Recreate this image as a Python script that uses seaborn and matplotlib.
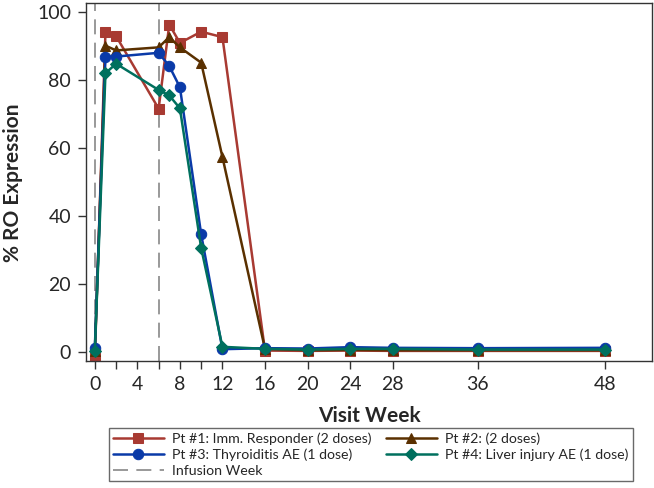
import pandas as pd
import numpy as np
import seaborn as sns
import matplotlib.pyplot as plt

weeks = [0, 1, 2, 6, 7, 8, 10, 12, 16, 20, 24, 28, 36, 48]
pt1 = [-1.5, 94.1, 92.8, 71.5, 96.2, 90.8, 94.1, 92.5, 0.5, 0.4, 0.5, 0.4, 0.4, 0.4]
pt2 = [0.3, 90.0, 88.6, 89.5, 92.5, 89.5, 85.0, 57.3, 1.0, 0.6, 0.7, 0.6, 0.6, 0.6]
pt3 = [1.3, 86.8, 86.8, 87.9, 84.0, 77.8, 34.6, 0.9, 1.2, 1.1, 1.5, 1.3, 1.2, 1.3]
pt4 = [0.5, 81.9, 84.7, 77.0, 75.4, 71.6, 30.6, 1.6, 1.0, 0.8, 1.0, 1.0, 0.8, 0.8]
infusion_weeks = [0, 6]

labels = ['Pt #1: Imm. Responder (2 doses)', 'Pt #2: (2 doses)',
          'Pt #3: Thyroiditis AE (1 dose)', 'Pt #4: Liver injury AE (1 dose)']
colors = ['#A83A32', '#5A3000', '#0A3AA8', '#00705E']
markers = ['s', '^', 'o', 'D']
msizes = [7, 7, 7.5, 6]
tick_pos = [0, 2, 4, 6, 8, 10, 12, 16, 20, 24, 28, 36, 48]
tick_lab = ['0', '', '4', '', '8', '', '12', '16', '20', '24', '28', '36', '48']

sns.set_style('white')
plt.rcParams['font.family'] = ['Lato', 'DejaVu Sans']

fig = plt.figure(figsize=(6.54, 4.88), dpi=100)
ax = fig.add_axes([0.132, 0.26, 0.865, 0.733])

for vals, lab, c, m, ms in zip([pt1, pt2, pt3, pt4], labels, colors, markers, msizes):
    df = pd.DataFrame({'week': weeks, 'ro': vals})
    sns.lineplot(data=df, x='week', y='ro', ax=ax, color=c, marker=m, markersize=ms,
                 markeredgecolor=c, linewidth=1.8, label=lab)

for w in infusion_weeks:
    ax.axvline(w, color='#888888', linestyle=(0, (9, 5)), linewidth=1.2, zorder=0,
               label='Infusion Week' if w == 0 else None)

ax.set_xlim(-0.8, 52.4)
ax.set_ylim(-2.6, 102.4)
ax.set_xticks(tick_pos)
ax.set_xticklabels(tick_lab)
ax.set_yticks([0, 20, 40, 60, 80, 100])
ax.tick_params(axis='both', direction='out', length=6, width=1, color='#333333',
               labelsize=14, bottom=True, left=True, pad=5)
for s in ax.spines.values():
    s.set_color('#333333')
    s.set_linewidth(1)
ax.set_xlabel('Visit Week', fontsize=15, fontweight='bold', labelpad=9)
ax.set_ylabel('% RO Expression', fontsize=15, fontweight='bold', labelpad=10)

h, l = ax.get_legend_handles_labels()
ax.get_legend().remove()
order = [0, 2, 4, 1, 3]
leg = fig.legend([h[i] for i in order], [l[i] for i in order], ncol=2,
                 loc='lower center', bbox_to_anchor=(0.567, 0.0), fontsize=10.2,
                 frameon=True, fancybox=False, edgecolor='#444444', handlelength=3.6,
                 columnspacing=1.0, labelspacing=0.25, borderpad=0.3, handletextpad=0.6)
leg.get_frame().set_linewidth(1)

fig.savefig('out.png', dpi=100)
